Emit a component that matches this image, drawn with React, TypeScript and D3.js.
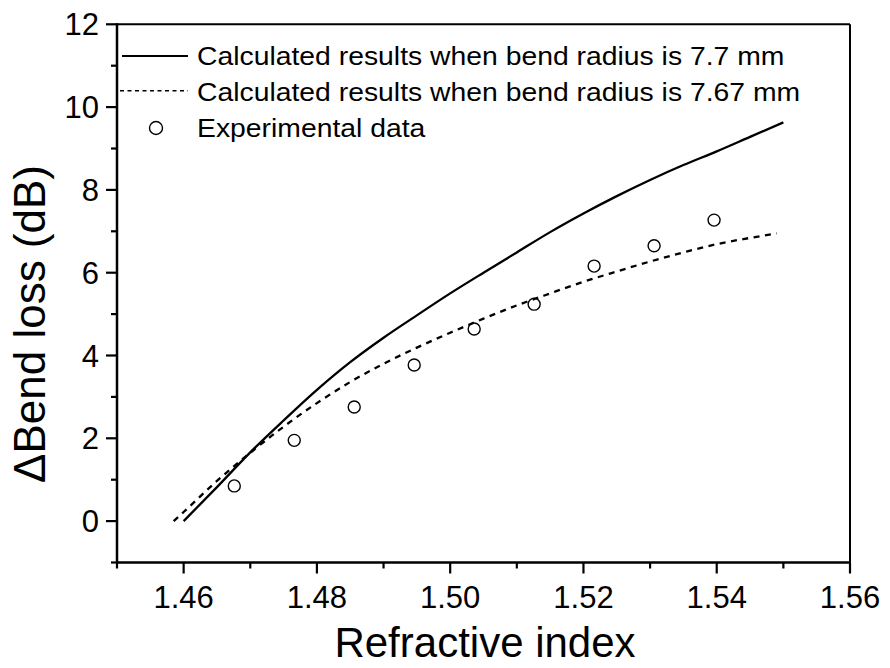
import React from "react";
import * as d3 from "d3";

// Calculated results, bend radius 7.7 mm (solid)
const solidX = [1.46, 1.465, 1.47, 1.475, 1.48, 1.485, 1.49, 1.495, 1.5, 1.505, 1.51, 1.515, 1.52, 1.525, 1.53, 1.535, 1.54, 1.545, 1.55];
const solidY = [0.0, 0.82, 1.66, 2.43, 3.17, 3.84, 4.43, 4.97, 5.5, 6.0, 6.49, 6.98, 7.43, 7.85, 8.24, 8.6, 8.93, 9.28, 9.63];

// Calculated results, bend radius 7.67 mm (dashed)
const dashX = [1.4585, 1.46, 1.465, 1.47, 1.475, 1.48, 1.485, 1.49, 1.495, 1.5, 1.505, 1.51, 1.515, 1.52, 1.525, 1.53, 1.535, 1.54, 1.545, 1.549];
const dashY = [0.0, 0.22, 0.97, 1.65, 2.28, 2.85, 3.36, 3.8, 4.19, 4.55, 4.89, 5.21, 5.5, 5.78, 6.03, 6.27, 6.49, 6.69, 6.84, 6.95];

// Experimental data (open circles)
const expX = [1.4676, 1.4766, 1.4856, 1.4946, 1.5036, 1.5126, 1.5216, 1.5306, 1.5396];
const expY = [0.85, 1.95, 2.755, 3.77, 4.64, 5.24, 6.16, 6.65, 7.27];

const xMajor = [1.46, 1.48, 1.5, 1.52, 1.54, 1.56];
const xMinor = [1.45, 1.47, 1.49, 1.51, 1.53, 1.55];
const yMajor = [0, 2, 4, 6, 8, 10, 12];
const yMinor = [-1, 1, 3, 5, 7, 9, 11];

const legendLabels = [
  "Calculated results when bend radius is 7.7 mm",
  "Calculated results when bend radius is 7.67 mm",
  "Experimental data",
];

const W = 890;
const H = 668;
const left = 117;
const right = 850;
const top = 24.3;
const bottom = 562.5;
const FONT = "'Liberation Sans', Arial, Helvetica, sans-serif";

export default function App() {
  const x = d3.scaleLinear().domain([1.45, 1.56]).range([left, right]);
  const y = d3.scaleLinear().domain([-1, 12]).range([bottom, top]);

  const line = d3
    .line<[number, number]>()
    .x((d) => x(d[0]))
    .y((d) => y(d[1]))
    .curve(d3.curveMonotoneX);

  const solidPts: [number, number][] = solidX.map((v, i) => [v, solidY[i]]);
  const dashPts: [number, number][] = dashX.map((v, i) => [v, dashY[i]]);

  const fmtX = d3.format(".2f");

  return (
    <svg
      width={W}
      height={H}
      viewBox={`0 0 ${W} ${H}`}
      style={{ position: "absolute", left: 0, top: 0, background: "#fff" }}
      fontFamily={FONT}
    >
      <rect x={0} y={0} width={W} height={H} fill="#fff" />

      {/* curves */}
      <path d={line(solidPts) || ""} fill="none" stroke="#000" strokeWidth={2.3} />
      <path
        d={line(dashPts) || ""}
        fill="none"
        stroke="#000"
        strokeWidth={2.3}
        strokeDasharray="6 5.5"
      />
      {expX.map((v, i) => (
        <circle key={i} cx={x(v)} cy={y(expY[i])} r={6} fill="none" stroke="#000" strokeWidth={1.4} />
      ))}

      {/* frame */}
      <line x1={left} x2={right} y1={top} y2={top} stroke="#000" strokeWidth={2} />
      <line x1={right} x2={right} y1={top} y2={bottom} stroke="#000" strokeWidth={2} />
      <line x1={left} x2={left} y1={top - 1} y2={bottom + 1} stroke="#000" strokeWidth={2.5} />
      <line x1={left - 1} x2={right + 1} y1={bottom} y2={bottom} stroke="#000" strokeWidth={2.5} />

      {/* y ticks */}
      {yMajor.map((v) => (
        <g key={"ym" + v}>
          <line x1={left - 11} x2={left} y1={y(v)} y2={y(v)} stroke="#000" strokeWidth={2.2} />
          <text x={99} y={y(v) + 11} textAnchor="end" fontSize={31} fill="#000">
            {v}
          </text>
        </g>
      ))}
      {yMinor.map((v) => (
        <line key={"yn" + v} x1={left - 6} x2={left} y1={y(v)} y2={y(v)} stroke="#000" strokeWidth={2.2} />
      ))}

      {/* x ticks */}
      {xMajor.map((v) => (
        <g key={"xm" + v}>
          <line x1={x(v)} x2={x(v)} y1={bottom} y2={bottom + 11} stroke="#000" strokeWidth={2.2} />
          <text x={x(v)} y={608} textAnchor="middle" fontSize={31} fill="#000">
            {fmtX(v)}
          </text>
        </g>
      ))}
      {xMinor.map((v) => (
        <line key={"xn" + v} x1={x(v)} x2={x(v)} y1={bottom} y2={bottom + 6} stroke="#000" strokeWidth={2.2} />
      ))}

      {/* axis titles */}
      <text x={485} y={657} textAnchor="middle" fontSize={42} fill="#000">
        Refractive index
      </text>
      <text
        transform={`translate(45, 324) rotate(-90)`}
        textAnchor="middle"
        fontSize={44}
        fill="#000"
      >
        ΔBend loss (dB)
      </text>

      {/* legend */}
      <line x1={122} x2={188} y1={56} y2={56} stroke="#000" strokeWidth={2} />
      <line x1={120} x2={188} y1={90.7} y2={90.7} stroke="#000" strokeWidth={1.5} strokeDasharray="4 3.5" />
      <circle cx={156} cy={128} r={6.5} fill="none" stroke="#000" strokeWidth={1.4} />
      {legendLabels.map((t, i) => (
        <text
          key={i}
          transform={`translate(197, ${65 + i * 36}) scale(1.09, 1)`}
          fontSize={26}
          fill="#000"
        >
          {t}
        </text>
      ))}
    </svg>
  );
}
